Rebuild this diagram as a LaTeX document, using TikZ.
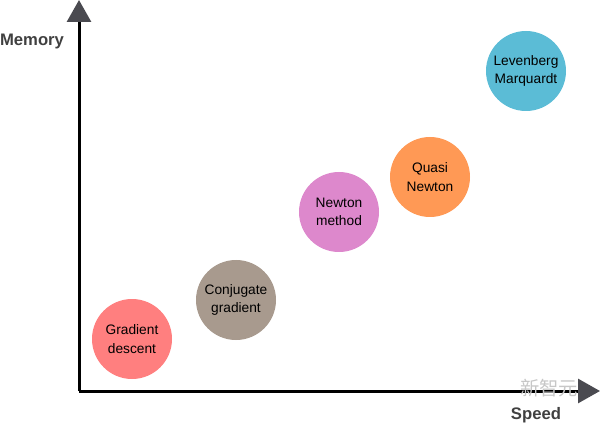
\documentclass[tikz,border=0pt]{standalone}
\usepackage{fontspec}
\setmainfont{Liberation Sans}
\newfontfamily\cjkfont{Noto Sans CJK SC}
\usepackage{xcolor}
\usetikzlibrary{arrows.meta, positioning}

\definecolor{axisgray}{HTML}{4A4A50}
\definecolor{labelgray}{HTML}{404040}
\definecolor{gdred}{HTML}{FF7F7F}
\definecolor{cgbrown}{HTML}{A89A8E}
\definecolor{nmpink}{HTML}{DD88CC}
\definecolor{qnorange}{HTML}{FF9955}
\definecolor{lmblue}{HTML}{5BBCD6}

\begin{document}
\begin{tikzpicture}[
  x=0.75pt, y=-0.75pt,
  algo/.style  = {circle, minimum size=60pt, inner sep=0pt, align=center,
                  font=\fontsize{10.3}{14}\selectfont, text=black},
  axis/.style  = {line width=2.25pt,
                  -{Triangle[width=18pt, length=16.5pt, color=axisgray]}},
  axislabel/.style = {font=\fontsize{12.5}{14}\selectfont\bfseries, text=labelgray},
]
\useasboundingbox (0,0) rectangle (600,424);

% Axes
\coordinate (origin) at (79,391);
\coordinate (ytop)   at (79,0);
\coordinate (xend)   at (600,391);
\draw[axis] (origin) -- (ytop);
\draw[axis] (origin) -- (xend);

\node[axislabel] (memory) at (32,41)  {Memory};
\node[axislabel] (speed)  at (536,415) {Speed};

% Methods
\node[algo, fill=gdred]    (gd) at (132,339) {Gradient\\descent};
\node[algo, fill=cgbrown]  (cg) at (236,300) {Conjugate\\gradient};
\node[algo, fill=nmpink]   (nm) at (339,212) {Newton\\method};
\node[algo, fill=qnorange] (qn) at (430,177) {Quasi\\Newton};
\node[algo, fill=lmblue]   (lm) at (526,71)  {Levenberg\\Marquardt};

% Watermark
\node[font=\cjkfont\fontsize{14.5}{14.5}\selectfont, text=black!22] (wm) at (549,388) {新智元};

\end{tikzpicture}
\end{document}
